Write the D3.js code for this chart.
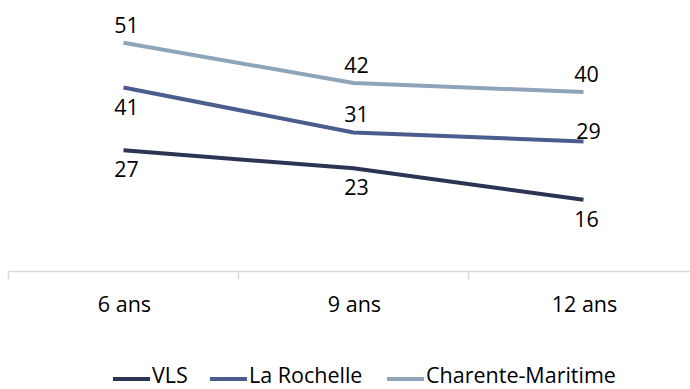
<!DOCTYPE html>
<html>
<head>
<meta charset="utf-8">
<script src="https://cdn.jsdelivr.net/npm/d3@7"></script>
<style>
  html, body { margin: 0; padding: 0; background: #fff; }
  svg { display: block; }
  text { font-family: "Open Sans", "Noto Sans", sans-serif; fill: #000; }
</style>
</head>
<body>
<svg id="chart" width="690" height="389"></svg>
<script>
// Categories (ages) and the three series
const categories = ["6 ans", "9 ans", "12 ans"];
const seriesNames = ["VLS", "La Rochelle", "Charente-Maritime"];
const vlsValues = [27, 23, 16];
const laRochelleValues = [41, 31, 29];
const charenteValues = [51, 42, 40];
const seriesColors = ["#2b3553", "#4b5d8e", "#8ea5b9"];
// Where each value label sits relative to its point
const labelPlacement = [
  ["below", "below", "below"],
  ["below", "above", "near"],
  ["above", "above", "above"]
];

const series = [
  { name: seriesNames[0], values: vlsValues, color: seriesColors[0], place: labelPlacement[0] },
  { name: seriesNames[1], values: laRochelleValues, color: seriesColors[1], place: labelPlacement[1] },
  { name: seriesNames[2], values: charenteValues, color: seriesColors[2], place: labelPlacement[2] }
];

const svg = d3.select("#chart");
const fontSize = 21.5;

const x = d3.scaleBand().domain(categories).range([8.5, 698.5]).padding(0);
const y = d3.scaleLinear().domain([0, 60]).range([271.5, 2.3]);
const cx = c => x(c) + x.bandwidth() / 2;

// Category axis with tick marks between categories
const axis = svg.append("g");
axis.append("line")
  .attr("x1", x.range()[0]).attr("x2", x.range()[1])
  .attr("y1", y(0)).attr("y2", y(0))
  .attr("stroke", "#d9d9d9").attr("stroke-width", 1.5);
const boundaries = categories.map(c => x(c)).concat([x.range()[1]]);
axis.selectAll("line.tick").data(boundaries).join("line")
  .attr("class", "tick")
  .attr("x1", d => d).attr("x2", d => d)
  .attr("y1", y(0)).attr("y2", y(0) + 8)
  .attr("stroke", "#d9d9d9").attr("stroke-width", 1.5);
axis.selectAll("text").data(categories).join("text")
  .attr("x", d => cx(d) + 1)
  .attr("y", 312)
  .attr("text-anchor", "middle")
  .attr("font-size", fontSize)
  .text(d => d);

// Lines
const line = d3.line()
  .x((d, i) => cx(categories[i]))
  .y(d => y(d));

svg.append("g").selectAll("path").data(series).join("path")
  .attr("d", s => line(s.values))
  .attr("fill", "none")
  .attr("stroke", s => s.color)
  .attr("stroke-width", 4)
  .attr("stroke-linejoin", "round");

// Value labels
const offsets = { above: -10, below: 27, near: -2 };
const labels = [];
series.forEach(s => s.values.forEach((v, i) => labels.push({ v, i, place: s.place[i] })));
svg.append("g").selectAll("text").data(labels).join("text")
  .attr("x", d => cx(categories[d.i]) + (d.place === "near" ? 5 : 3))
  .attr("y", d => y(d.v) + offsets[d.place])
  .attr("text-anchor", "middle")
  .attr("font-size", fontSize)
  .text(d => d.v);

// Legend
const legendX = [113, 210, 387];
const legend = svg.append("g").selectAll("g").data(series).join("g")
  .attr("transform", (d, i) => `translate(${legendX[i]},379)`);
legend.append("line")
  .attr("x1", 0).attr("x2", 37)
  .attr("y1", 0).attr("y2", 0)
  .attr("stroke", d => d.color).attr("stroke-width", 4);
legend.append("text")
  .attr("x", 39).attr("y", 4)
  .attr("font-size", fontSize)
  .text(d => d.name);
</script>
</body>
</html>
